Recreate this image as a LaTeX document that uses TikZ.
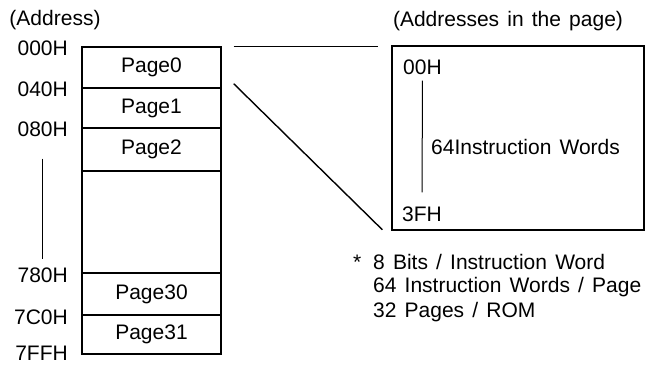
\documentclass[tikz,border=0pt]{standalone}
\usepackage{fontspec}
\setmainfont{Liberation Sans}[WordSpace=1.4]
\tikzset{
  page/.style={draw, line width=1.4pt, minimum width=139pt, inner sep=0pt},
  addr/.style={anchor=east, inner sep=0pt},
  note/.style={anchor=west, inner sep=0pt}
}
\begin{document}
\begin{tikzpicture}[x=1pt, y=-1pt, font=\fontsize{21}{25}\selectfont]
    \useasboundingbox (0,0) rectangle (655,365);

    % the ROM, page by page
    \node (romtitle) at (55, 20) {(Address)};
    \node[page, minimum height=41pt]  (page0)  at (151.5, 67.5)  {Page0};
    \node[page, minimum height=40pt]  (page1)  at (151.5, 108)   {Page1};
    \node[page, minimum height=43pt]  (page2)  at (151.5, 149.5) {Page2};
    \node[page, minimum height=102pt] (pagesx) at (151.5, 222)   {};
    \node[page, minimum height=42pt]  (page30) at (151.5, 294)   {Page30};
    \node[page, minimum height=39pt]  (page31) at (151.5, 334.5) {Page31};

    \node[addr] (a000) at (68, 48)  {000H};
    \node[addr] (a040) at (68, 89)  {040H};
    \node[addr] (a080) at (68, 129) {080H};
    \node[addr] (a780) at (68, 275) {780H};
    \node[addr] (a7c0) at (68, 317) {7C0H};
    \node[addr] (a7ff) at (68, 353) {7FFH};
    \draw[line width=1pt] ([yshift=-22pt]a080.south) -- ([yshift=8pt]a780.north);

    % one page, word by word
    \node (pagetitle) at (508, 21) {(Addresses in the page)};
    \node[draw, line width=1.4pt, minimum width=252pt, minimum height=184pt] (pagebox) at (518, 138) {};
    \node[note] (w00) at (403, 67)  {00H};
    \node[note] (w3f) at (402, 214) {3FH};
    \node[note] (words) at (431, 147) {64Instruction Words};
    \draw[line width=1pt] ([yshift=-6pt]w00.south) -- ([yshift=14pt]w3f.north);

    \coordinate (topin) at (page0.north east -| pagebox.west);
    \draw[line width=1.4pt] ([xshift=12pt]page0.north east) -- ([xshift=-13pt]topin);
    \draw[line width=1.4pt] ([xshift=12pt, yshift=5pt]page0.south east) -- ([xshift=-9pt, yshift=1pt]pagebox.south west);

    % notes
    \node[note] (star)  at (353, 262) {*};
    \node[note] (note1) at (373, 262) {8 Bits / Instruction Word};
    \node[note] (note2) at (373, 287) {64 Instruction Words / Page};
    \node[note] (note3) at (373, 312) {32 Pages / ROM};
\end{tikzpicture}
\end{document}
